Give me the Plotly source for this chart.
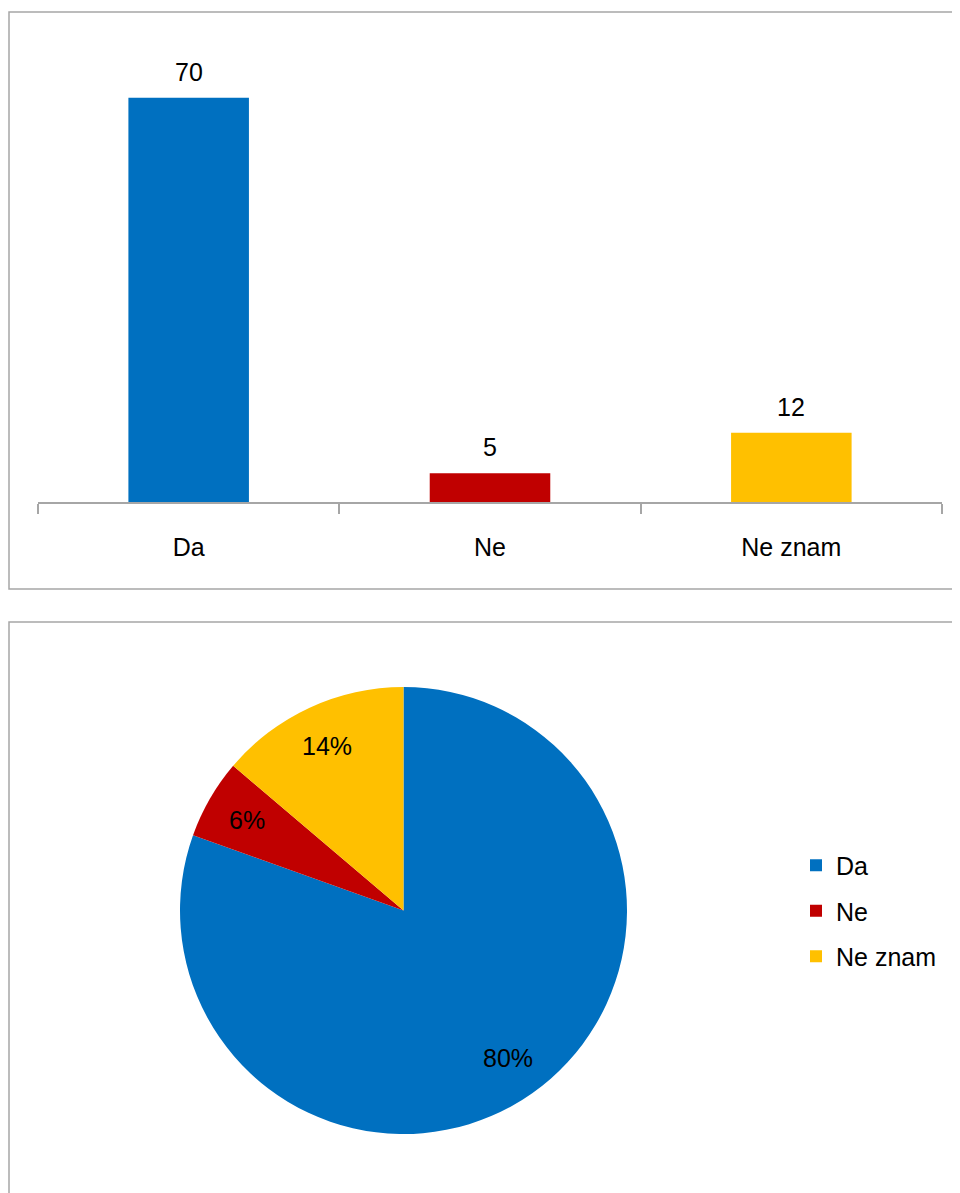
import math
import plotly.graph_objects as go

categories = ["Da", "Ne", "Ne znam"]
counts = [70, 5, 12]
colors = ["#0070C0", "#C00000", "#FFC000"]

# page offset (default body margin of the html page)
OFF = 8
W, H = 960 - OFF, 1193 - OFF
FONT = "Liberation Sans, Arial, sans-serif"
FS = 25


def px(x):
    return (x - OFF) / W


def py(y):
    return (H - (y - OFF)) / H


fig = go.Figure()

fig.add_trace(go.Bar(
    x=categories, y=counts, marker=dict(color=colors, line=dict(width=0)),
    showlegend=False, xaxis="x", yaxis="y", hoverinfo="x+y",
))

for c, v in zip(categories, counts):
    fig.add_annotation(x=c, y=v, xref="x", yref="y", text=str(v), showarrow=False,
                       yanchor="bottom", yshift=10, font=dict(size=FS, color="#000000", family=FONT))

# pie geometry (page pixels)
PIE_L, PIE_R, PIE_T, PIE_B = 180, 627, 687, 1134
cx, cy = (PIE_L + PIE_R) / 2, (PIE_T + PIE_B) / 2
rad = (PIE_R - PIE_L) / 2

fig.add_trace(go.Pie(
    labels=categories, values=counts, sort=False, direction="clockwise", rotation=0,
    marker=dict(colors=colors, line=dict(width=0)),
    textinfo="none",
    domain=dict(x=[px(PIE_L), px(PIE_R)], y=[py(PIE_B), py(PIE_T)]),
    showlegend=False, hoverinfo="label+value+percent",
))

# percentage labels placed along each slice's bisector (Excel "best fit" style)
total = sum(counts)
cum = 0
for c, v in zip(categories, counts):
    mid = (cum + v / 2) / total * 2 * math.pi
    cum += v
    lx = cx + 0.81 * rad * math.sin(mid)
    ly = cy - 0.81 * rad * math.cos(mid)
    fig.add_annotation(x=px(lx), y=py(ly), xref="paper", yref="paper",
                       text=f"{round(v / total * 100)}%", showarrow=False,
                       xanchor="center", yanchor="middle",
                       font=dict(size=FS, color="#000000", family=FONT))

for c, col in zip(categories, colors):
    fig.add_trace(go.Scatter(
        x=[None], y=[None], mode="markers", name=c, legendgroup=c,
        marker=dict(symbol="square", size=12, color=col),
        xaxis="x", yaxis="y", showlegend=True,
    ))

fig.update_layout(
    width=W, height=H, margin=dict(l=0, r=0, t=0, b=0),
    paper_bgcolor="white", plot_bgcolor="white",
    font=dict(family=FONT, size=FS, color="#000000"),
    bargap=0.6,
    xaxis=dict(domain=[px(38), px(942)], anchor="y", type="category",
               showline=True, linecolor="#a6a6a6", linewidth=1.5,
               ticks="outside", tickson="boundaries", ticklen=10, tickcolor="#a6a6a6",
               tickwidth=1.5, ticklabelstandoff=22, showgrid=False, zeroline=False,
               tickfont=dict(size=FS, family=FONT, color="#000000"), fixedrange=True),
    yaxis=dict(domain=[py(502), py(40)], anchor="x", range=[0, 80], visible=False,
               showgrid=False, zeroline=False, fixedrange=True),
    legend=dict(x=px(796), y=py(911), xanchor="left", yanchor="middle",
                font=dict(size=FS, family=FONT, color="#000000"),
                tracegroupgap=10, itemwidth=30, bgcolor="rgba(0,0,0,0)"),
    shapes=[
        dict(type="rect", xref="paper", yref="paper", x0=px(9), x1=px(975), y0=py(589), y1=py(12),
             line=dict(color="#a6a6a6", width=1.5), layer="below"),
        dict(type="rect", xref="paper", yref="paper", x0=px(9), x1=px(975), y0=py(1210), y1=py(622),
             line=dict(color="#a6a6a6", width=1.5), layer="below"),
    ],
)

fig.write_html("out.html")
